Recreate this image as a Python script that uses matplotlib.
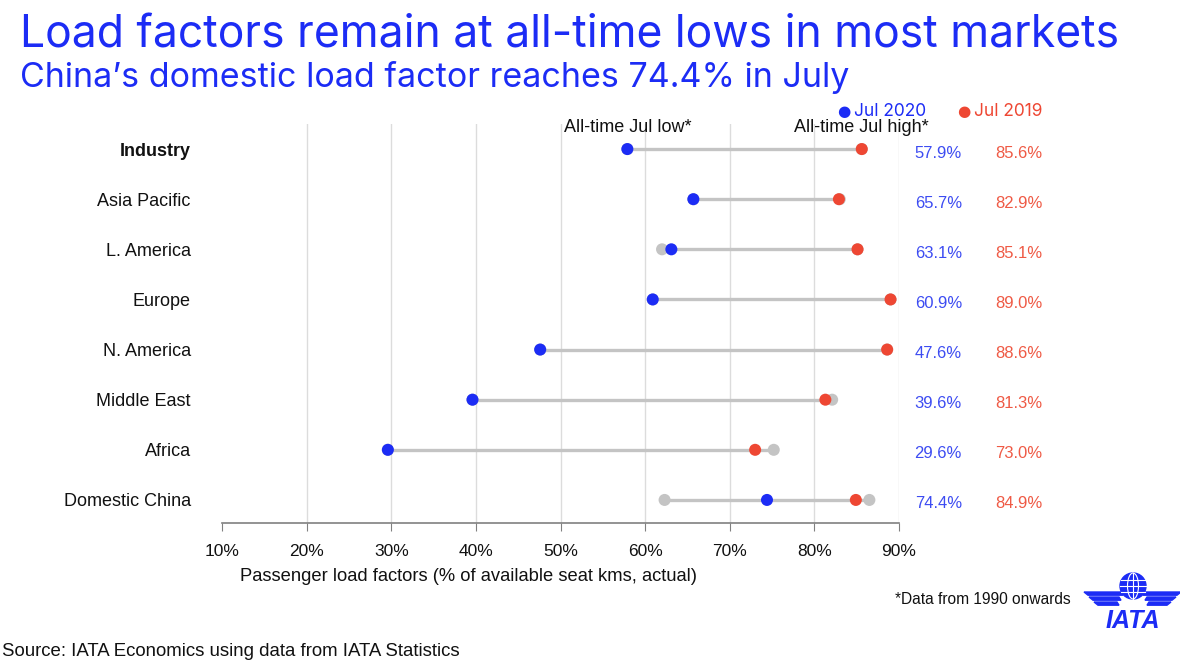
import matplotlib
matplotlib.use("Agg")
import matplotlib.pyplot as plt
from matplotlib.patches import Circle, Ellipse, Polygon
import numpy as np

categories = ["Industry", "Asia Pacific", "L. America", "Europe", "N. America",
              "Middle East", "Africa", "Domestic China"]
jul2020 = [57.9, 65.7, 63.1, 60.9, 47.6, 39.6, 29.6, 74.4]
jul2019 = [85.6, 82.9, 85.1, 89.0, 88.6, 81.3, 73.0, 84.9]
alltime_low = [57.9, 65.7, 62.0, 60.9, 47.6, 39.6, 29.6, 62.3]
alltime_high = [85.6, 83.0, 85.1, 89.0, 88.6, 82.1, 75.2, 86.5]
xticks = [10, 20, 30, 40, 50, 60, 70, 80, 90]
xtick_labels = ["10%", "20%", "30%", "40%", "50%", "60%", "70%", "80%", "90%"]

BLUE = "#1c2cf5"
BLUE_TXT = "#3d4cf2"
RED = "#ee4733"
RED_TXT = "#ef5a45"
GRAY = "#c4c4c4"
TITLE_FONT = ["Inter", "DejaVu Sans"]
BODY_FONT = ["Liberation Sans", "DejaVu Sans"]

W, H = 1200, 665
fig = plt.figure(figsize=(W / 100, H / 100), dpi=100)
fig.patch.set_facecolor("white")

ax = fig.add_axes([222 / W, 1 - 523 / H, (899 - 222) / W, (523 - 124) / H])
y = np.arange(len(categories))
ax.set_xlim(10, 90)
ax.set_ylim(7.46, -0.5)

for gx in xticks[1:]:
    ax.axvline(gx, color="#dcdcdc", lw=1.0, zorder=0)

ax.hlines(y, alltime_low, alltime_high, color=GRAY, lw=2.4, zorder=1)
ax.scatter(alltime_low, y, s=75, color=GRAY, zorder=2, edgecolors="none")
ax.scatter(alltime_high, y, s=75, color=GRAY, zorder=2, edgecolors="none")
ax.scatter(jul2019, y, s=75, color=RED, zorder=3, edgecolors="none")
ax.scatter(jul2020, y, s=75, color=BLUE, zorder=4, edgecolors="none")

for sp in ["top", "right", "left"]:
    ax.spines[sp].set_visible(False)
ax.spines["bottom"].set_color("#808080")
ax.spines["bottom"].set_linewidth(1.2)
ax.set_xticks(xticks)
ax.set_xticklabels(xtick_labels, fontsize=12.5, family=BODY_FONT, color="#111111")
ax.tick_params(axis="x", direction="out", length=6, color="#808080", pad=9)
ax.set_yticks([])
ax.set_xlabel("Passenger load factors (% of available seat kms, actual)",
              fontsize=13.2, family=BODY_FONT, color="#111111")
ax.xaxis.set_label_coords((468 - 222) / (899 - 222), -0.113)

for i, cat in enumerate(categories):
    ax.text(-0.046, i + 0.04, cat, transform=ax.get_yaxis_transform(),
            ha="right", va="center", fontsize=13, family=BODY_FONT,
            fontweight="bold" if cat == "Industry" else "normal", color="#111111")
    ax.text(1.058, i + 0.08, f"{jul2020[i]:.1f}%", transform=ax.get_yaxis_transform(),
            ha="center", va="center", fontsize=12, family=BODY_FONT, color=BLUE_TXT)
    ax.text(1.177, i + 0.08, f"{jul2019[i]:.1f}%", transform=ax.get_yaxis_transform(),
            ha="center", va="center", fontsize=12, family=BODY_FONT, color=RED_TXT)

# header annotations
fig.text(628 / W, 1 - 127 / H, "All-time Jul low*", ha="center", va="center",
         fontsize=13, family=BODY_FONT, color="#111111")
fig.text(861 / W, 1 - 127 / H, "All-time Jul high*", ha="center", va="center",
         fontsize=13, family=BODY_FONT, color="#111111")

# legend
fig.text(844 / W, 1 - 111 / H, "●", ha="center", va="center", fontsize=11, color=BLUE)
fig.text(854 / W, 1 - 111 / H, "Jul 2020", ha="left", va="center", fontsize=12.5,
         family=TITLE_FONT, color=BLUE)
fig.text(964 / W, 1 - 111 / H, "●", ha="center", va="center", fontsize=11, color=RED)
fig.text(974 / W, 1 - 111 / H, "Jul 2019", ha="left", va="center", fontsize=12.5,
         family=TITLE_FONT, color=RED)

# titles
fig.text(20 / W, 1 - 35 / H, "Load factors remain at all-time lows in most markets",
         ha="left", va="center", fontsize=32, family=TITLE_FONT, color=BLUE)
fig.text(20 / W, 1 - 78 / H, "China\u2019s domestic load factor reaches 74.4% in July",
         ha="left", va="center", fontsize=24.5, family=TITLE_FONT, color=BLUE)

# footnotes
fig.text(1071 / W, 1 - 600 / H, "*Data from 1990 onwards", ha="right", va="center",
         fontsize=11.2, family=BODY_FONT, color="#111111")
fig.text(2 / W, 1 - 651 / H, "Source: IATA Economics using data from IATA Statistics",
         ha="left", va="center", fontsize=13.4, family=BODY_FONT, color="#111111")

# IATA logo (approximation)
lax = fig.add_axes([1080 / W, 1 - 635 / H, 100 / W, 65 / H])
lax.set_xlim(1080, 1180)
lax.set_ylim(635, 570)
lax.axis("off")
cx, cy, r = 1133, 586, 13
lax.add_patch(Circle((cx, cy), r, color=BLUE, zorder=1))
for dy in (-6, 0, 6):
    half = np.sqrt(max(r * r - dy * dy, 0))
    lax.plot([cx - half, cx + half], [cy + dy, cy + dy], color="white", lw=0.8, zorder=2)
lax.add_patch(Ellipse((cx, cy), 11, 2 * r, fill=False, ec="white", lw=0.8, zorder=2))
lax.plot([cx, cx], [cy - r, cy + r], color="white", lw=0.8, zorder=2)
for k in range(3):
    yy = 592 + k * 5
    lax.add_patch(Polygon([[1084 + k * 5, yy], [1121 - k * 2, yy],
                           [1123 - k * 2, yy + 3.2], [1088 + k * 5, yy + 3.2]],
                          closed=True, color=BLUE))
    lax.add_patch(Polygon([[1181 - k * 5, yy], [1145 + k * 2, yy],
                           [1143 + k * 2, yy + 3.2], [1177 - k * 5, yy + 3.2]],
                          closed=True, color=BLUE))
lax.text(1133, 621, "IATA", ha="center", va="center", fontsize=18, fontweight="bold",
         fontstyle="italic", family=BODY_FONT, color=BLUE)

fig.savefig("out.png", dpi=100, facecolor="white")
